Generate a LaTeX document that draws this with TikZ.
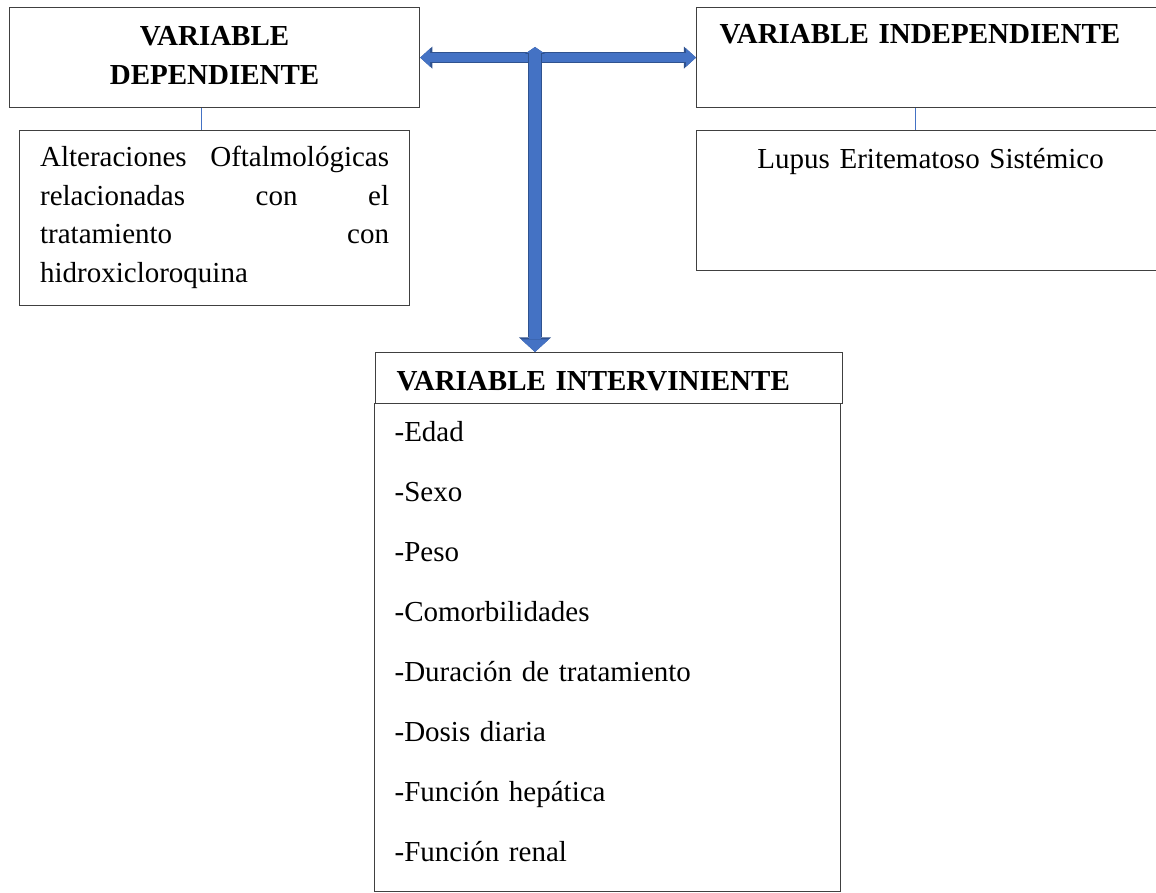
\documentclass[tikz,border=0pt]{standalone}
\usepackage{fontspec}
\setmainfont{Liberation Serif}
\usetikzlibrary{arrows.meta}
\definecolor{arrowblue}{HTML}{4472C4}
\definecolor{arrowedge}{HTML}{2F528F}
\colorlet{linkblue}{arrowblue}

\tikzset{
  varbox/.style={draw=black!75, line width=1.2pt, anchor=north west, inner ysep=0pt,
    font=\fontsize{29}{38.5}\selectfont},
  varhead/.style={varbox, font=\fontsize{29}{38.5}\selectfont\bfseries},
  link/.style={draw=linkblue, line width=1pt},
  hbar/.style={draw=arrowblue, line width=9pt, preaction={draw=arrowedge, line width=11pt}},
  vbar/.style={draw=arrowblue, line width=12pt, preaction={draw=arrowedge, line width=14pt}},
}

\begin{document}
\begin{tikzpicture}[x=1pt, y=-1pt]
  \useasboundingbox (0,0) rectangle (1156,893);
  \clip (0,0) rectangle (1156,893);

  \node[varhead, text width=410pt, inner xsep=0pt, align=center, text height=38pt, text depth=62pt] (dep) at (9,7) {VARIABLE\\DEPENDIENTE};
  \node[varbox, text width=349pt, inner xsep=20.5pt, align=left, text height=36pt, text depth=139pt] (depb) at (19,130)
    {Alteraciones\hfill Oftalmológicas\\relacionadas\hfill con\hfill el\\tratamiento\hfill con\\hidroxicloroquina};

  \node[varhead, text width=422pt, inner xsep=23pt, align=left, text height=36pt, text depth=64pt] (indep) at (696,7) {VARIABLE INDEPENDIENTE};
  \node[varbox, text width=468pt, inner xsep=0pt, align=center, text height=38pt, text depth=102pt] (indepb) at (696,130) {Lupus Eritematoso Sistémico};

  \node[varhead, text width=425pt, inner xsep=21pt, align=left, text height=38pt, text depth=13pt] (ivh) at (375,352) {VARIABLE INTERVINIENTE};
  \node[varbox, font=\fontsize{29}{60}\selectfont, text width=426pt, inner xsep=20pt, align=left, text height=38pt, text depth=450pt] (ivb) at (374,403)
    {-Edad\\-Sexo\\-Peso\\-Comorbilidades\\-Duración de tratamiento\\-Dosis diaria\\-Función hepática\\-Función renal};

  \draw[link] ([xshift=-13pt]dep.south) -- ([xshift=-13pt]dep.south |- depb.north);
  \draw[link] ([xshift=-15pt]indep.south) -- ([xshift=-15pt]indep.south |- indepb.north);

  \draw[hbar, {Triangle[width=0pt 2.0, length=0pt 1.1, line width=0pt]}-{Triangle[width=0pt 2.0, length=0pt 1.1, line width=0pt]}] (dep.east) -- (indep.west);
  \coordinate (jn) at (535,47);
  \draw[vbar, {Triangle[width=0pt 1.45, length=0pt 0.5, line width=0pt]}-{Triangle[width=0pt 2.3, length=0pt 1.05, line width=0pt]}] (jn) -- (jn |- ivh.north);
\end{tikzpicture}
\end{document}
